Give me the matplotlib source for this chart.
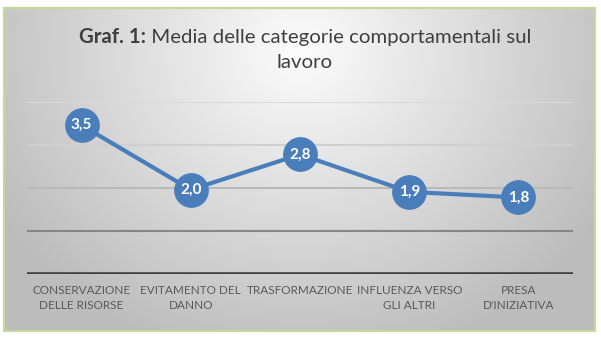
import numpy as np
import matplotlib
matplotlib.use('Agg')
import matplotlib.pyplot as plt
from matplotlib.patches import Rectangle

# dati del grafico
categorie = ['CONSERVAZIONE\nDELLE RISORSE', 'EVITAMENTO DEL\nDANNO', 'TRASFORMAZIONE',
             'INFLUENZA VERSO\nGLI ALTRI', 'PRESA\nD\'INIZIATIVA']
medie = [3.46, 1.96, 2.78, 1.91, 1.78]
griglia = [1, 2, 3, 4]

plt.rcParams['font.family'] = ['Lato', 'DejaVu Sans']

W, H, DPI = 601, 337, 100
fig = plt.figure(figsize=(W / DPI, H / DPI), dpi=DPI)

# sfondo con gradiente radiale
bg = fig.add_axes([0, 0, 1, 1])
yy, xx = np.mgrid[0:H, 0:W]
r = np.sqrt(((xx - 300) / 330.0) ** 2 + ((yy - 50) / 300.0) ** 2)
g = np.clip(252 - 60 * r, 188, 255) / 255.0
img = np.dstack([g, g, g])
bg.imshow(img, extent=[0, W, H, 0], aspect='auto')
bg.set_xlim(0, W)
bg.set_ylim(H, 0)
bg.axis('off')
# bordo esterno bianco + cornice verde
bg.add_patch(Rectangle((0, 0), W, 7, color='white', zorder=2))
bg.add_patch(Rectangle((0, 331), W, 6, color='white', zorder=2))
bg.add_patch(Rectangle((0, 0), 3, H, color='white', zorder=2))
bg.add_patch(Rectangle((595, 0), 6, H, color='white', zorder=2))
bg.add_patch(Rectangle((3.5, 7.5), 591, 323, fill=False, edgecolor='#c4d9a0', lw=1.6, zorder=3))

# area del grafico
ax = fig.add_axes([27 / W, 1 - 274 / H, (573 - 27) / W, (274 - 102) / H])
ax.patch.set_alpha(0)
ax.set_xlim(-0.5, len(categorie) - 0.5)
ax.set_ylim(0, 4)

colori_griglia = ['#868686', '#b9b9b9', '#d0d0d0', '#d9d9d9']
for yv, c in zip(griglia, colori_griglia):
    ax.axhline(yv, color=c, lw=1.5, zorder=1)
ax.axhline(0, color='#404040', lw=2.6, zorder=2)

x = np.arange(len(categorie))
ax.plot(x, medie, color='#4a7ebb', lw=3.0, marker='o', markersize=24,
        markerfacecolor='#4a7ebb', markeredgecolor='#4a7ebb', zorder=3,
        solid_capstyle='round')
for xi, v in zip(x, medie):
    ax.text(xi, v, f'{v:.1f}'.replace('.', ','), color='white', fontsize=11,
            fontweight='bold', ha='center', va='center', zorder=4)

for s in ax.spines.values():
    s.set_visible(False)
ax.set_yticks([])
ax.set_xticks(x)
ax.set_xticklabels(categorie, fontsize=8.5, color='#595959', linespacing=1.45)
ax.tick_params(axis='x', length=0, pad=8)

# titolo: parte in grassetto + parte normale
parte1 = 'Graf. 1:'
parte2 = ' Media delle categorie comportamentali sul'
fs = 14.7
renderer = fig.canvas.get_renderer()
t1 = fig.text(0, 0, parte1, fontsize=fs, fontweight='bold', color='#3f3f3f')
t2 = fig.text(0, 0, parte2, fontsize=fs, color='#3f3f3f')
w1 = t1.get_window_extent(renderer).width
w2 = t2.get_window_extent(renderer).width
x0 = 305 - (w1 + w2) / 2
ytit = 1 - 37 / H
t1.set_position((x0 / W, ytit))
t1.set_va('center')
t2.set_position(((x0 + w1) / W, ytit))
t2.set_va('center')
fig.text(305 / W, 1 - 62 / H, 'lavoro', fontsize=fs, color='#3f3f3f',
         ha='center', va='center')

fig.savefig('out.png', dpi=DPI)
